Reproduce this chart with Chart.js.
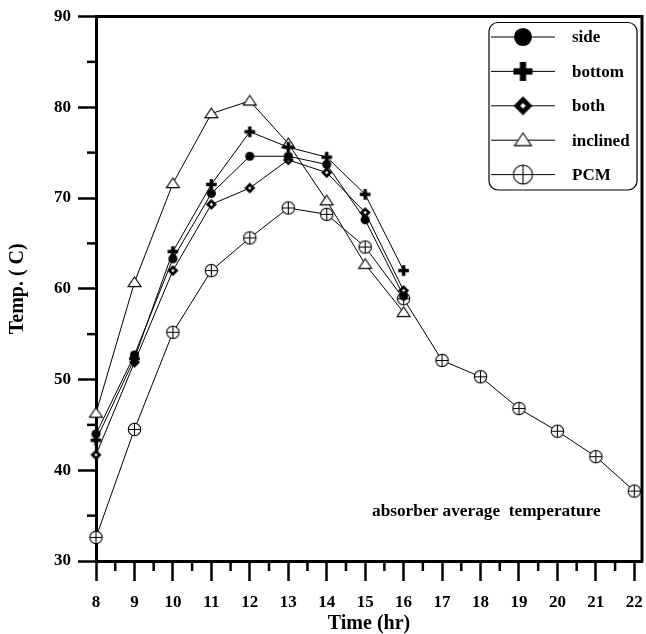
<!DOCTYPE html>
<html>
<head>
<meta charset="utf-8">
<script src="https://cdn.jsdelivr.net/npm/chart.js@4.4.1/dist/chart.umd.min.js"></script>
<style>
html,body{margin:0;padding:0;background:#fff;}
#wrap{width:646px;height:634px;}
</style>
</head>
<body>
<div id="wrap"><canvas id="c" width="646" height="634"></canvas></div>
<script>
// ---- data ----
const hoursShort = [8, 9, 10, 11, 12, 13, 14, 15, 16];
const hoursPCM = [8, 9, 10, 11, 12, 13, 14, 15, 16, 17, 18, 19, 20, 21, 22];
const seriesNames = ['side', 'bottom', 'both', 'inclined', 'PCM'];
const sideVals = [44.0, 52.7, 63.3, 70.5, 74.6, 74.6, 73.7, 67.6, 59.2];
const bottomVals = [43.3, 52.3, 64.1, 71.5, 77.3, 75.6, 74.5, 70.4, 62.0];
const bothVals = [41.7, 51.9, 62.0, 69.3, 71.1, 74.2, 72.8, 68.4, 59.8];
const inclinedVals = [46.3, 60.7, 71.6, 79.3, 80.7, 76.0, 69.7, 62.7, 57.4];
const pcmVals = [32.6, 44.5, 55.2, 62.0, 65.6, 68.9, 68.2, 64.6, 58.9, 52.1, 50.3, 46.8, 44.3, 41.5, 37.7];
const xTickVals = [8, 9, 10, 11, 12, 13, 14, 15, 16, 17, 18, 19, 20, 21, 22];
const yTickVals = [30, 40, 50, 60, 70, 80, 90];
const annotationText = 'absorber average  temperature';
const xTitle = 'Time (hr)';
const yTitle = 'Temp. ( C)';

const FONT = '"Liberation Serif", "Times New Roman", serif';

// ---- marker images ----
function makeMarker(type, s) {
  const pad = 2;
  const size = Math.ceil(s * 2 + pad * 2);
  const cv = document.createElement('canvas');
  cv.width = size; cv.height = size;
  const g = cv.getContext('2d');
  const c = size / 2;
  g.fillStyle = '#000'; g.strokeStyle = '#000';
  if (type === 'circle') {
    g.beginPath(); g.arc(c, c, s * 0.82, 0, Math.PI * 2); g.fill();
  } else if (type === 'plus') {
    const t = s * 0.33;
    g.fillRect(c - s, c - t, 2 * s, 2 * t);
    g.fillRect(c - t, c - s, 2 * t, 2 * s);
  } else if (type === 'diamond') {
    g.beginPath(); g.moveTo(c, c - s); g.lineTo(c + s, c); g.lineTo(c, c + s); g.lineTo(c - s, c); g.closePath(); g.fill();
    const r = s * 0.3;
    g.fillStyle = '#fff';
    g.beginPath(); g.moveTo(c, c - r); g.lineTo(c + r, c); g.lineTo(c, c + r); g.lineTo(c - r, c); g.closePath(); g.fill();
  } else if (type === 'triangle') {
    g.fillStyle = '#fff'; g.lineWidth = 1.1;
    const h = s * 0.85;
    g.beginPath(); g.moveTo(c, c - h); g.lineTo(c + s, c + h * 0.75); g.lineTo(c - s, c + h * 0.75); g.closePath(); g.fill(); g.stroke();
  } else if (type === 'pcm') {
    g.fillStyle = '#fff'; g.lineWidth = 1.1;
    g.beginPath(); g.arc(c, c, s, 0, Math.PI * 2); g.fill(); g.stroke();
    g.beginPath(); g.moveTo(c - s, c); g.lineTo(c + s, c); g.moveTo(c, c - s); g.lineTo(c, c + s); g.stroke();
  }
  return cv;
}
const markerTypes = ['circle', 'plus', 'diamond', 'triangle', 'pcm'];
const plotSizes = [5.5, 5.3, 5.5, 6.5, 6.2];
const legendSizes = [11, 9.5, 9.5, 8.5, 9.5];
const plotMarkers = markerTypes.map((t, i) => makeMarker(t, plotSizes[i]));
const legendMarkers = markerTypes.map((t, i) => makeMarker(t, legendSizes[i]));

function pts(xs, ys) { return ys.map((v, i) => ({ x: xs[i], y: v })); }
const allVals = [sideVals, bottomVals, bothVals, inclinedVals, pcmVals];
const allHours = [hoursShort, hoursShort, hoursShort, hoursShort, hoursPCM];

const datasets = seriesNames.map((name, i) => ({
  label: name,
  data: pts(allHours[i], allVals[i]),
  borderColor: '#000',
  borderWidth: 1,
  backgroundColor: '#000',
  pointStyle: plotMarkers[i],
  pointRadius: plotSizes[i],
  tension: 0,
  clip: false,
  legendMarker: legendMarkers[i]
}));

// ---- plugins ----
const framePlugin = {
  id: 'frame',
  afterDraw(chart) {
    const { ctx, chartArea: a, scales } = chart;
    ctx.save();
    ctx.strokeStyle = '#000';
    // top and right border
    ctx.lineWidth = 3;
    ctx.beginPath();
    ctx.moveTo(a.left - 1, a.top); ctx.lineTo(a.right, a.top); ctx.lineTo(a.right, a.bottom + 1);
    ctx.stroke();
    // minor ticks
    ctx.lineWidth = 2.5;
    const xs = scales.x, ys = scales.y;
    for (let i = 0; i < xTickVals.length - 1; i++) {
      const v = (xTickVals[i] + xTickVals[i + 1]) / 2;
      const px = xs.getPixelForValue(v);
      ctx.beginPath(); ctx.moveTo(px, a.bottom); ctx.lineTo(px, a.bottom + 10); ctx.stroke();
    }
    for (let i = 0; i < yTickVals.length - 1; i++) {
      const v = (yTickVals[i] + yTickVals[i + 1]) / 2;
      const py = ys.getPixelForValue(v);
      ctx.beginPath(); ctx.moveTo(a.left, py); ctx.lineTo(a.left - 9, py); ctx.stroke();
    }
    // annotation
    ctx.fillStyle = '#000';
    ctx.font = 'bold 17.3px ' + FONT;
    ctx.textBaseline = 'alphabetic';
    ctx.textAlign = 'left';
    ctx.fillText(annotationText, 372, 516);
    // legend
    const L = 489, T = 22.5, R = 637, B = 190, rad = 9;
    ctx.lineWidth = 1.2;
    ctx.beginPath();
    ctx.moveTo(L + rad, T); ctx.lineTo(R - rad, T); ctx.arcTo(R, T, R, T + rad, rad);
    ctx.lineTo(R, B - rad); ctx.arcTo(R, B, R - rad, B, rad);
    ctx.lineTo(L + rad, B); ctx.arcTo(L, B, L, B - rad, rad);
    ctx.lineTo(L, T + rad); ctx.arcTo(L, T, L + rad, T, rad);
    ctx.closePath();
    ctx.fillStyle = '#fff'; ctx.fill(); ctx.stroke();
    chart.data.datasets.forEach((ds, i) => {
      const y = 37 + i * 34.4;
      ctx.lineWidth = 1;
      ctx.beginPath(); ctx.moveTo(491, y); ctx.lineTo(555, y); ctx.stroke();
      const m = ds.legendMarker;
      ctx.drawImage(m, 523 - m.width / 2, y - m.height / 2);
      ctx.fillStyle = '#000';
      ctx.font = 'bold 17px ' + FONT;
      ctx.textBaseline = 'middle';
      ctx.fillText(ds.label, 572, y + 1);
    });
    ctx.restore();
  }
};

new Chart(document.getElementById('c'), {
  type: 'line',
  data: { datasets },
  options: {
    responsive: false,
    animation: false,
    devicePixelRatio: 1,
    layout: { autoPadding: false, padding: { top: 16.5, right: 4, left: 0, bottom: 0 } },
    plugins: { legend: { display: false }, tooltip: { enabled: false } },
    scales: {
      x: {
        type: 'linear', min: 8, max: 22.2,
        afterBuildTicks(s) { s.ticks = xTickVals.map(v => ({ value: v })); },
        afterFit(s) { s.height = 73; s.paddingLeft = 0; s.paddingRight = 0; },
        grid: { drawOnChartArea: false, drawTicks: true, tickLength: 20, tickWidth: 2.5, tickColor: '#000' },
        border: { color: '#000', width: 3 },
        ticks: { color: '#000', font: { family: FONT, size: 17, weight: 'bold' }, padding: 11, maxRotation: 0, autoSkip: false },
        title: { display: true, text: xTitle, color: '#000', font: { family: FONT, size: 20, weight: 'bold' }, padding: { top: 0, bottom: -2 } }
      },
      y: {
        type: 'linear', min: 30, max: 90,
        afterBuildTicks(s) { s.ticks = yTickVals.map(v => ({ value: v })); },
        afterFit(s) { s.width = 96; s.paddingTop = 0; s.paddingBottom = 0; },
        grid: { drawOnChartArea: false, drawTicks: true, tickLength: 18, tickWidth: 2.5, tickColor: '#000' },
        border: { color: '#000', width: 3 },
        ticks: { color: '#000', font: { family: FONT, size: 17, weight: 'bold' }, padding: 7 },
        title: { display: true, text: yTitle, color: '#000', font: { family: FONT, size: 20, weight: 'bold' }, padding: { top: 6, bottom: 0 } }
      }
    }
  },
  plugins: [framePlugin]
});
</script>
</body>
</html>
